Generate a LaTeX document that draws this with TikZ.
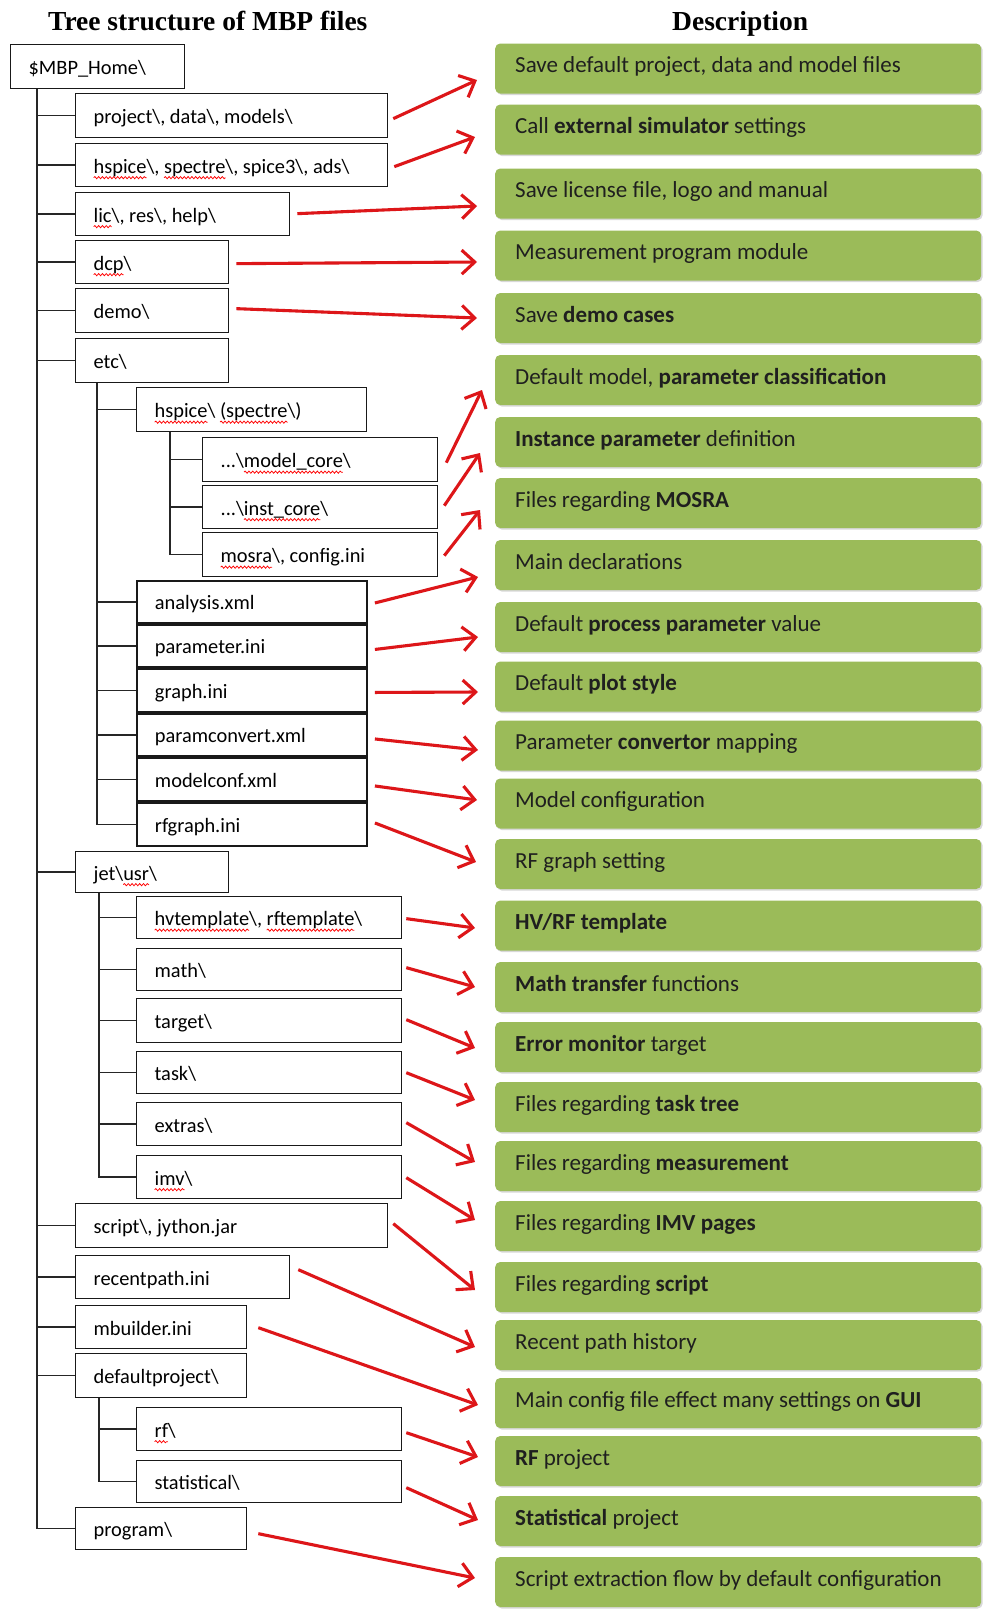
\documentclass[tikz,border=0pt]{standalone}
\usepackage{fontspec}
\setmainfont{Carlito}
\newfontfamily\titlefont{Liberation Serif}
\usetikzlibrary{arrows.meta,calc,shadows,decorations.pathmorphing}
\definecolor{gboxc}{HTML}{9BBB59}
\definecolor{rarrow}{HTML}{DD1619}
\newsavebox\sqbox
\newlength\sqlen
\newcommand\squig[1]{\sbox\sqbox{#1}\setlength\sqlen{\wd\sqbox}\rlap{\tikz[overlay]{\pgftransformreset\draw[red, line width=0.75pt, decorate, decoration={snake, amplitude=1.1pt, segment length=3.8pt}] (0pt,-4.5pt) -- (\sqlen,-4.5pt);}}\usebox\sqbox}
\newcommand\bsl{\textbackslash}
% tree box: name, x1, y1, x2, y2, text
\newcommand\tbx[6]{\node[treebox, minimum height={(#5-#3)*1pt}] (#1) at (#2,#3) {\makebox[\dimexpr #4pt-#2pt-36pt\relax][l]{#6}};}
\newcommand\stbx[6]{\node[treebox, line width=1.9pt, minimum height={(#5-#3)*1pt}] (#1) at (#2,#3) {\makebox[\dimexpr #4pt-#2pt-36pt\relax][l]{#6}};}
% green box: name, center y, text
\newcommand\gbx[3]{\node[gbox] (#1) at (495,#2) {\makebox[446pt][l]{#3}};}
% arrow: from, dx, dy, to, dx, dy
\newcommand\rarr[6]{\draw[redarr] ($(#1.east)+(#2,#3)$) -- ($(#4.west)+(#5,#6)$);}
\newcommand\tch[2]{\draw[tree] (#2.west -| #1) -- (#2.west);}
\begin{document}
\begin{tikzpicture}[x=1pt,y=-1pt,
  treebox/.style={draw=black!90, line width=1.3pt, inner xsep=18pt, inner ysep=0pt,
    text height=17pt, text depth=1pt, font=\fontsize{20.4}{24}\selectfont, anchor=north west, fill=white},
  gbox/.style={fill=gboxc, rounded corners=5pt, minimum height=50pt, inner xsep=20pt, inner ysep=0pt,
    text height=14pt, text depth=6pt, font=\fontsize{23}{27}\selectfont, text=black!88, anchor=west,
    drop shadow={shadow xshift=1.5pt, shadow yshift=-1.5pt, opacity=0.25, fill=black!60}},
  tree/.style={line width=1.5pt, black!85},
  redarr/.style={draw=rarrow, line width=3.1pt, -{Straight Barb[length=13pt, width=24pt, line width=3.1pt]}},
  ttl/.style={font=\titlefont\bfseries\fontsize{27.5}{30}\selectfont, inner sep=0pt, anchor=base west}]
\useasboundingbox (0,0) rectangle (984,1612);
\fill[white] (0,0) rectangle (984,1612);

\node[ttl] (title1) at (48,30) {Tree structure of MBP files};
\node[ttl] (title2) at (672,30) {Description};

% trunk coordinates
\coordinate (t1) at (37,0);
\coordinate (t2) at (97,0);
\coordinate (t3) at (170,0);
\coordinate (t4) at (99,0);

% ---- tree boxes
\tbx{home}{10}{44}{184}{88}{\$MBP\_Home\bsl}
\tbx{project}{75}{93}{387}{137}{project\bsl, data\bsl, models\bsl}
\tbx{hspice}{75}{143}{387}{186}{\squig{hspice}\bsl, \squig{spectre}\bsl, spice3\bsl, ads\bsl}
\tbx{lic}{75}{192}{289}{235}{\squig{lic}\bsl, res\bsl, help\bsl}
\tbx{dcp}{75}{240}{228}{283}{\squig{dcp}\bsl}
\tbx{demo}{75}{288}{228}{332}{demo\bsl}
\tbx{etc}{75}{338}{228}{382}{etc\bsl}
\tbx{hsp2}{136}{387}{366}{431}{\squig{hspice}\bsl\ \squig{(spectre}\bsl)}
\tbx{mc}{202}{437}{437}{481}{...\bsl\squig{model\_core}\bsl}
\tbx{ic}{202}{485}{437}{528}{...\bsl\squig{inst\_core}\bsl}
\tbx{mosra}{202}{532}{437}{576}{\squig{mosra}\bsl, config.ini}
\stbx{analysis}{136}{580}{366}{622}{analysis.xml}
\stbx{parameter}{136}{624}{366}{666}{parameter.ini}
\stbx{graph}{136}{668}{366}{711}{graph.ini}
\stbx{paramconvert}{136}{713}{366}{755}{paramconvert.xml}
\stbx{modelconf}{136}{757}{366}{800}{modelconf.xml}
\stbx{rfgraph}{136}{802}{366}{845}{rfgraph.ini}
\tbx{jet}{75}{851}{228}{892}{jet\bsl\squig{usr}\bsl}
\tbx{hv}{136}{896}{401}{938}{\squig{hvtemplate}\bsl, \squig{rftemplate}\bsl}
\tbx{math}{136}{948}{401}{990}{math\bsl}
\tbx{target}{136}{998}{401}{1042}{target\bsl}
\tbx{task}{136}{1051}{401}{1093}{task\bsl}
\tbx{extras}{136}{1102}{401}{1145}{extras\bsl}
\tbx{imv}{136}{1155}{401}{1198}{\squig{imv}\bsl}
\tbx{script}{75}{1203}{387}{1247}{script\bsl, jython.jar}
\tbx{recent}{75}{1255}{289}{1298}{recentpath.ini}
\tbx{mbuilder}{75}{1305}{246}{1348}{mbuilder.ini}
\tbx{dproj}{75}{1353}{246}{1397}{defaultproject\bsl}
\tbx{rf}{136}{1407}{401}{1450}{\squig{rf}\bsl}
\tbx{stat}{136}{1460}{401}{1502}{statistical\bsl}
\tbx{program}{75}{1507}{246}{1549}{program\bsl}

% ---- tree lines
\draw[tree] (home.south -| t1) |- (program.west);
\foreach \c in {project,hspice,lic,dcp,demo,etc,jet,script,recent,mbuilder,dproj}{\tch{t1}{\c}}
\draw[tree] (etc.south -| t2) |- (rfgraph.west);
\foreach \c in {hsp2,analysis,parameter,graph,paramconvert,modelconf}{\tch{t2}{\c}}
\draw[tree] (hsp2.south -| t3) |- (mosra.west);
\foreach \c in {mc,ic}{\tch{t3}{\c}}
\draw[tree] (jet.south -| t4) |- (imv.west);
\foreach \c in {hv,math,target,task,extras}{\tch{t4}{\c}}
\draw[tree] (dproj.south -| t4) |- (stat.west);
\tch{t4}{rf}

% ---- green description boxes
\gbx{g1}{68.5}{Save default project, data and model files}
\gbx{g2}{129.5}{Call \textbf{external simulator} settings}
\gbx{g3}{193.5}{Save license file, logo and manual}
\gbx{g4}{255.5}{Measurement program module}
\gbx{g5}{318}{Save \textbf{demo cases}}
\gbx{g6}{380}{Default model, \textbf{parameter classification}}
\gbx{g7}{442}{\textbf{Instance parameter} definition}
\gbx{g8}{503}{Files regarding \textbf{MOSRA}}
\gbx{g9}{565}{Main declarations}
\gbx{g10}{627}{Default \textbf{process parameter} value}
\gbx{g11}{686.5}{Default \textbf{plot style}}
\gbx{g12}{745.5}{Parameter \textbf{convertor} mapping}
\gbx{g13}{803.5}{Model configuration}
\gbx{g14}{864}{RF graph setting}
\gbx{g15}{925.5}{\textbf{HV/RF template}}
\gbx{g16}{987}{\textbf{Math transfer} functions}
\gbx{g17}{1047}{\textbf{Error monitor} target}
\gbx{g18}{1107}{Files regarding \textbf{task tree}}
\gbx{g19}{1166}{Files regarding \textbf{measurement}}
\gbx{g20}{1226}{Files regarding \textbf{IMV pages}}
\gbx{g21}{1287}{Files regarding \textbf{script}}
\gbx{g22}{1345}{Recent path history}
\gbx{g23}{1403}{Main config file effect many settings on \textbf{GUI}}
\gbx{g24}{1461}{\textbf{RF} project}
\gbx{g25}{1521}{\textbf{Statistical} project}
\gbx{g26}{1582}{Script extraction flow by default configuration}

% ---- red arrows
\rarr{project}{5}{3}{g1}{-18}{11.5}
\rarr{hspice}{6}{1.5}{g2}{-20}{7.5}
\rarr{lic}{7}{-0.5}{g3}{-18}{12.5}
\rarr{dcp}{7}{1.5}{g4}{-18}{6.5}
\rarr{demo}{7}{-2}{g5}{-18}{0}
\rarr{mc}{8}{3}{g6}{-13}{10}
\rarr{ic}{6}{-1.5}{g7}{-15}{11}
\rarr{mosra}{6}{1}{g8}{-15}{7}
\rarr{analysis}{7}{1}{g9}{-17}{12}
\rarr{parameter}{7}{3.5}{g10}{-17}{10}
\rarr{graph}{7}{2}{g11}{-17}{5.5}
\rarr{paramconvert}{7}{4}{g12}{-17}{4.5}
\rarr{modelconf}{7}{6.5}{g13}{-18}{-3.5}
\rarr{rfgraph}{7}{-1.5}{g14}{-19}{-2}
\rarr{hv}{4}{1}{g15}{-20}{2.5}
\rarr{math}{4}{-2}{g16}{-20}{0}
\rarr{target}{4}{-1}{g17}{-20}{1}
\rarr{task}{4}{0}{g18}{-20}{-7}
\rarr{extras}{4}{-1.5}{g19}{-20}{-4}
\rarr{imv}{4}{0.5}{g20}{-20}{-6}
\rarr{script}{5}{-2}{g21}{-20}{3}
\rarr{recent}{8}{-7.5}{g22}{-20}{2}
\rarr{mbuilder}{11}{0.5}{g23}{-17}{2}
\rarr{rf}{4}{3.5}{g24}{-17}{-4}
\rarr{stat}{4}{6}{g25}{-17}{-1}
\rarr{program}{11}{5}{g26}{-20}{-4}
\end{tikzpicture}
\end{document}
